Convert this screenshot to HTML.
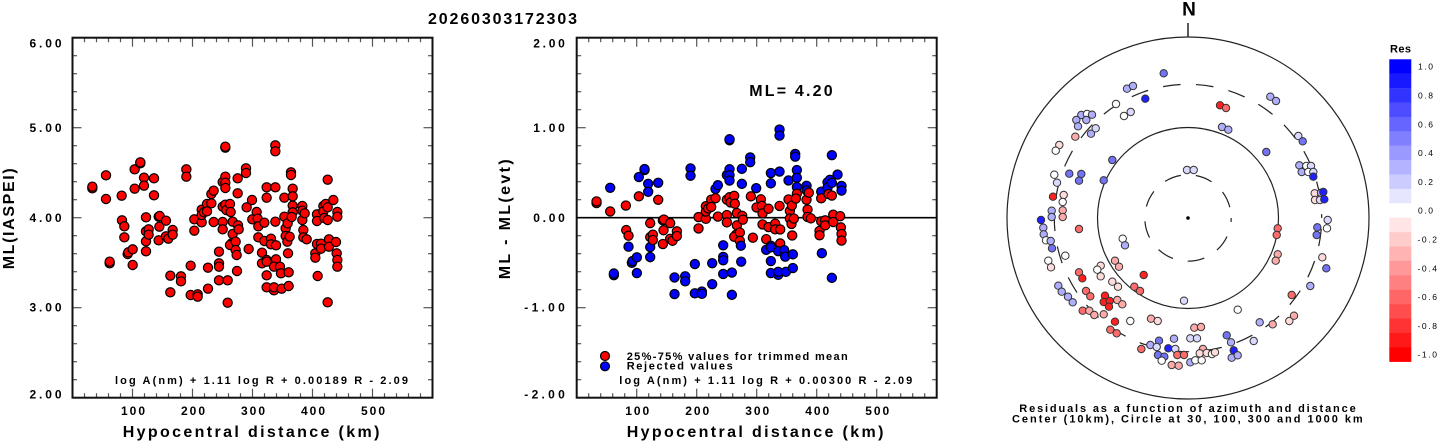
<!DOCTYPE html>
<html><head><meta charset="utf-8">
<style>
html,body{margin:0;padding:0;background:#fff;}
svg{display:block;}
text{font-family:"Liberation Sans",Arial,sans-serif;fill:#000;}
.b{font-weight:bold;}
</style></head>
<body>
<svg id="s" xmlns="http://www.w3.org/2000/svg" width="1437" height="441" viewBox="0 0 1437 441">
<rect x="0" y="0" width="1437" height="441" fill="#fff"/>
<g id="axes"></g>
<g id="pts"></g>
<!-- titles -->
<text class="b" x="428" y="24" font-size="16" textLength="149" lengthAdjust="spacing">20260303172303</text>

<!-- left plot labels -->
<g class="b" font-size="12" font-weight="bold">
<text x="29.5" y="47.3" textLength="32" lengthAdjust="spacing">6.00</text>
<text x="29.5" y="132" textLength="32" lengthAdjust="spacing">5.00</text>
<text x="29.5" y="222" textLength="32" lengthAdjust="spacing">4.00</text>
<text x="29.5" y="311.7" textLength="32" lengthAdjust="spacing">3.00</text>
<text x="29.5" y="398.3" textLength="32" lengthAdjust="spacing">2.00</text>
<text x="121" y="415" textLength="24" lengthAdjust="spacing">100</text>
<text x="181" y="415" textLength="24" lengthAdjust="spacing">200</text>
<text x="241" y="415" textLength="24" lengthAdjust="spacing">300</text>
<text x="301" y="415" textLength="24" lengthAdjust="spacing">400</text>
<text x="361" y="415" textLength="24" lengthAdjust="spacing">500</text>

<text x="533.3" y="47.3" textLength="31.5" lengthAdjust="spacing">2.00</text>
<text x="533.3" y="132" textLength="31.5" lengthAdjust="spacing">1.00</text>
<text x="533.3" y="222" textLength="31.5" lengthAdjust="spacing">0.00</text>
<text x="524.3" y="311.7" textLength="40.5" lengthAdjust="spacing">-1.00</text>
<text x="524.3" y="398.3" textLength="40.5" lengthAdjust="spacing">-2.00</text>
<text x="625.2" y="415" textLength="24" lengthAdjust="spacing">100</text>
<text x="685.2" y="415" textLength="24" lengthAdjust="spacing">200</text>
<text x="745.2" y="415" textLength="24" lengthAdjust="spacing">300</text>
<text x="805.2" y="415" textLength="24" lengthAdjust="spacing">400</text>
<text x="865.2" y="415" textLength="24" lengthAdjust="spacing">500</text>
</g>

<text class="b" x="122.7" y="437" font-size="16" textLength="256.7" lengthAdjust="spacing">Hypocentral distance (km)</text>
<text class="b" x="626.7" y="437" font-size="16" textLength="256.7" lengthAdjust="spacing">Hypocentral distance (km)</text>
<text class="b" font-size="16" text-anchor="middle" transform="translate(14,218.8) rotate(-90)" textLength="101" lengthAdjust="spacing">ML(IASPEI)</text>
<text class="b" font-size="16" text-anchor="middle" transform="translate(510,219.3) rotate(-90)" textLength="120" lengthAdjust="spacing">ML - ML(evt)</text>

<text class="b" x="115" y="384" font-size="11" textLength="293" lengthAdjust="spacing">log A(nm) + 1.11 log R + 0.00189 R - 2.09</text>
<text class="b" x="619.3" y="384" font-size="11" textLength="293" lengthAdjust="spacing">log A(nm) + 1.11 log R + 0.00300 R - 2.09</text>

<text class="b" x="749.3" y="96" font-size="16" textLength="83.3" lengthAdjust="spacing">ML= 4.20</text>

<circle cx="605" cy="356" r="4.5" fill="#ff0000" stroke="#000" stroke-width="1.2"/>
<circle cx="605" cy="366.3" r="4.5" fill="#0000ff" stroke="#000" stroke-width="1.2"/>
<text class="b" x="626.7" y="360" font-size="11" textLength="221" lengthAdjust="spacing">25%-75% values for trimmed mean</text>
<text class="b" x="626.7" y="369.7" font-size="11" textLength="106" lengthAdjust="spacing">Rejected values</text>

<!-- polar -->
<g fill="none" stroke="#222" stroke-width="1.2">
<circle cx="1188" cy="218" r="181"/>
<circle cx="1188" cy="218" r="90.5"/>
<circle cx="1188" cy="218" r="43.2" stroke-dasharray="17 15" stroke-dashoffset="12.9"/>
<circle cx="1188" cy="218" r="133.7" stroke-dasharray="17.5 15.5" stroke-dashoffset="22.2"/>
<line x1="1188" y1="23" x2="1188" y2="37.5" stroke-width="1.5"/>
</g>
<circle cx="1188" cy="218" r="1.8" fill="#000"/>
<g id="ppts"></g>
<text class="b" x="1189" y="15.7" font-size="19" text-anchor="middle">N</text>
<text class="b" x="1019.3" y="412" font-size="11" textLength="336.4" lengthAdjust="spacing">Residuals as a function of azimuth and distance</text>
<text class="b" x="1012" y="422.7" font-size="11" textLength="350.7" lengthAdjust="spacing">Center (10km), Circle at 30, 100, 300 and 1000 km</text>

<!-- colorbar -->
<g id="cbar"></g>
<text class="b" x="1390" y="52.3" font-size="11" textLength="21" lengthAdjust="spacing">Res</text>
<g font-size="8.5" letter-spacing="1.6">
<text x="1418" y="69.7">1.0</text>
<text x="1418" y="98.5">0.8</text>
<text x="1418" y="127.3">0.6</text>
<text x="1418" y="156.1">0.4</text>
<text x="1418" y="184.9">0.2</text>
<text x="1418" y="213.7">0.0</text>
<text x="1417.5" y="242.5">-0.2</text>
<text x="1417.5" y="271.3">-0.4</text>
<text x="1417.5" y="300.1">-0.6</text>
<text x="1417.5" y="328.9">-0.8</text>
<text x="1417.5" y="357.7">-1.0</text>
</g>
</svg>
<script>
(function(){
var NS="http://www.w3.org/2000/svg";
function el(tag,a,p){var e=document.createElementNS(NS,tag);for(var k in a)e.setAttribute(k,a[k]);p.appendChild(e);return e;}
var ax=document.getElementById('axes');
function axes(X0,Y0){
  for(var i=1;i<30;i++){var x=X0+12*i,L=(i%5==0)?9:4.5;
    el('line',{x1:x,y1:Y0,x2:x,y2:Y0+L,stroke:'#555','stroke-width':1.2},ax);
    el('line',{x1:x,y1:Y0+360,x2:x,y2:Y0+360-L,stroke:'#555','stroke-width':1.2},ax);}
  for(var j=1;j<20;j++){var y=Y0+360-18*j,L2=(j%5==0)?9:4.5;
    el('line',{x1:X0,y1:y,x2:X0+L2,y2:y,stroke:'#555','stroke-width':1.2},ax);
    el('line',{x1:X0+360,y1:y,x2:X0+360-L2,y2:y,stroke:'#555','stroke-width':1.2},ax);}
  el('rect',{x:X0,y:Y0,width:360,height:360,fill:'none',stroke:'#111','stroke-width':2},ax);
}
axes(72.5,37.7);axes(576.7,37.7);
el('line',{x1:576.7,y1:217.7,x2:936.7,y2:217.7,stroke:'#000','stroke-width':1.6},ax);

var L=[[277,565],[277,560],[318,526],[318,597],[329,790],[329,785],[365,587],[366,661],[373,679],[373,712],[383,762],[385,757],[398,748],[398,795],[404,508],[404,566],[421,490],[421,487],[432,533],[432,557],[438,652],[438,694],[438,724],[438,754],[446,688],[446,704],[462,535],[462,586],[476,650],[479,648],[478,680],[476,721],[498,662],[498,709],[505,716],[518,690],[518,704],[511,827],[511,877],[543,829],[543,844],[559,508],[559,530],[572,797],[572,885],[583,658],[583,692],[593,883],[593,890],[605,629],[605,667],[605,645],[612,637],[621,612],[621,634],[624,803],[624,866],[634,610],[634,582],[641,572],[641,666],[657,755],[657,790],[657,800],[657,841],[668,546],[668,620],[668,666],[668,688],[676,443],[676,440],[676,530],[676,548],[676,564],[676,614],[679,630],[683,841],[683,908],[690,612],[692,636],[695,730],[690,735],[698,665],[698,702],[707,725],[707,750],[710,765],[711,813],[713,535],[713,580],[714,676],[716,688],[738,505],[738,519],[740,622],[746,747],[756,600],[757,658],[770,636],[773,656],[775,679],[775,712],[786,758],[786,790],[793,668],[793,723],[800,562],[800,593],[800,780],[800,826],[800,862],[800,785],[813,716],[813,733],[826,436],[826,454],[826,562],[826,665],[828,736],[828,778],[822,800],[822,871],[822,862],[840,800],[843,820],[845,866],[853,593],[853,650],[857,685],[857,708],[863,670],[862,725],[864,760],[866,817],[866,858],[869,710],[873,517],[873,525],[878,566],[878,589],[878,617],[878,637],[875,651],[907,618],[907,632],[907,660],[910,690],[910,712],[914,640],[920,718],[946,760],[946,773],[951,643],[951,663],[951,732],[953,828],[963,731],[963,746],[970,618],[970,634],[973,654],[977,612],[983,539],[983,907],[983,660],[987,718],[987,740],[983,622],[1000,600],[1008,726],[1010,760],[1012,780],[1012,800],[1012,636],[1012,650]];
var pg=document.getElementById('pts');
for(var i=0;i<L.length;i++){
  var px=L[i][0]/3,py=L[i][1]/3;
  el('circle',{cx:px,cy:py,r:4.6,fill:'#ff0000',stroke:'#000','stroke-width':1.2},pg);
  var mx=px+504.2,my=py+18-0.1665*(px-72.7);
  var res=(217.7-my)/90;
  var red=(res>=-0.30&&res<=0.28);
  el('circle',{cx:mx,cy:my,r:4.6,fill:red?'#ff0000':'#0000ff',stroke:'#000','stroke-width':1.2},pg);
}

var C={B3:'#2020ff',B2:'#7373f5',B1:'#aeaefc',B0:'#dadaff',W:'#ffffff',R0:'#ffdcdc',R1:'#ffaaaa',R2:'#ff6b6b',R3:'#ff2020'};
var P=[[1163.7,73.3,'B2'],[1127,88.7,'B1'],[1133,86,'B1'],[1145.3,98.7,'B3'],[1116,104,'W'],[1124,116,'W'],[1130.7,112,'B0'],
[1081.3,115,'B1'],[1087,114,'W'],[1092,114.7,'B1'],[1076.3,120,'B1'],[1086.3,120,'B1'],[1078,126.3,'B1'],
[1091,133.7,'B1'],[1095.7,128.3,'B0'],[1075.3,136.7,'R1'],[1059.3,145,'R0'],[1055.7,150.7,'W'],[1112.3,160,'B2'],[1103.7,180.3,'B2'],
[1054.3,174.7,'W'],[1057,182.7,'B0'],[1069.3,173.7,'B2'],[1081.3,174,'B2'],[1079,180.7,'B2'],[1053,196.7,'R3'],[1063.7,195,'R0'],[1062.7,202,'W'],
[1051.7,210.7,'B1'],[1062.7,210.3,'R1'],[1062.7,217,'R1'],[1051.7,217,'B1'],[1041,220,'B3'],[1187,170,'B0'],[1193.7,170,'B0'],
[1220,105.3,'R3'],[1226,108,'R2'],[1270.3,96.7,'B1'],[1276,101,'B1'],[1222,127,'B1'],[1228.3,129.7,'B1'],[1266.3,152,'B2'],
[1298.3,136,'B0'],[1302.7,141.3,'B2'],[1299.3,165.3,'B1'],[1306.3,166,'W'],[1311,166,'B0'],[1301.7,172,'B1'],[1308.3,172,'W'],[1313.3,172,'B0'],[1313.3,176.7,'B3'],
[1314.7,193.3,'R0'],[1321,192.7,'B1'],[1323.3,192,'B3'],[1315,200,'R0'],[1320,200,'B0'],[1324.3,199.3,'B3'],[1327.7,220,'B0'],[1327,228.3,'W'],
[1043.3,227.7,'B1'],[1043.7,234.3,'B1'],[1046,240.3,'W'],[1050.7,241,'B1'],[1052,248.3,'B2'],[1079,229,'R2'],[1065.3,255.7,'W'],[1048.3,260.7,'W'],[1051,267.3,'R0'],
[1079,272.3,'R2'],[1082.3,278.3,'R3'],[1058.3,285.7,'B1'],[1061.7,291.7,'B1'],[1068,296.7,'B1'],[1072.7,302.3,'B1'],[1086,291,'R2'],[1090.3,296.3,'R2'],
[1105,295.7,'R3'],[1103.7,302,'R3'],[1109.7,301,'R3'],[1109,306.7,'R3'],[1117.3,300,'R1'],[1122.3,304.3,'R1'],
[1082.7,310.7,'R2'],[1089.3,310.7,'R1'],[1094.3,315,'R1'],[1103.7,314.3,'R1'],[1115,321.7,'R3'],[1110.3,329.7,'R2'],[1116.7,333.3,'R2'],[1130.3,321,'W'],
[1100.7,265.7,'R0'],[1097.3,269.7,'W'],[1100.7,276.3,'R0'],[1115,260.7,'R1'],[1119,266.7,'R1'],[1112.3,281.7,'R0'],[1118,286.7,'R0'],
[1134.3,286.7,'R2'],[1140,291,'R2'],[1143.7,275,'R3'],[1122.7,238.7,'W'],[1125,245.3,'B1'],[1151,318.7,'R1'],[1157.7,321,'R0'],[1184,300.7,'B0'],
[1141.3,349,'R2'],[1150.3,345,'B1'],[1159,340.7,'B2'],[1156.7,347,'B0'],[1168.3,348.3,'B3'],[1175.3,349,'B0'],[1174,338.7,'B1'],
[1158,355,'B2'],[1164.3,356.7,'B2'],[1161.7,360.7,'W'],[1177.3,355,'R2'],[1184,355,'R2'],[1171.7,365,'R1'],[1178.7,365.7,'R1'],
[1190.3,362.3,'B1'],[1195.3,360.3,'W'],[1201.7,360.3,'W'],[1190.3,338.3,'B0'],[1197,338.3,'B0'],[1194.3,327.7,'R1'],[1201,327,'R1'],
[1203,349,'R1'],[1199.7,353.3,'R0'],[1206.7,353,'R0'],[1212,354,'W'],[1215,352.3,'R0'],
[1226.7,335.3,'B2'],[1231,342.3,'B1'],[1233.7,350.3,'B3'],[1231.7,357.7,'B1'],[1237.7,355.3,'B1'],[1253.7,341,'B0'],[1237.7,309.7,'W'],
[1259.7,322.3,'B1'],[1272.7,324.3,'R1'],[1289.3,321,'R0'],[1294,315.7,'R1'],[1291.7,295,'R2'],[1310.3,286,'B1'],
[1277.7,228.3,'R2'],[1276.7,235,'R2'],[1277.7,254.3,'R1'],[1275.7,260.7,'R1'],[1317.3,227.3,'B2'],[1316.7,235,'B2'],[1322.3,257.3,'R0'],[1326.3,268.3,'B2']];
var pp=document.getElementById('ppts');
for(var k=0;k<P.length;k++){
  el('circle',{cx:P[k][0],cy:P[k][1],r:3.7,fill:C[P[k][2]],stroke:'#333','stroke-width':1},pp);
}
var cb=document.getElementById('cbar');
for(var b=0;b<21;b++){
  var v=1-0.1*b,r,g,bl;
  if(v>0.001){var c=Math.round(255*(1-v));r=c;g=c;bl=255;}
  else if(v<-0.001){var c2=Math.round(255*(1+v));r=255;g=c2;bl=c2;}
  else {r=255;g=255;bl=255;}
  el('rect',{x:1389.3,y:59.3+14.4*b,width:22,height:14.6,fill:'rgb('+r+','+g+','+bl+')'},cb);
}
})();
</script>
</body></html>
